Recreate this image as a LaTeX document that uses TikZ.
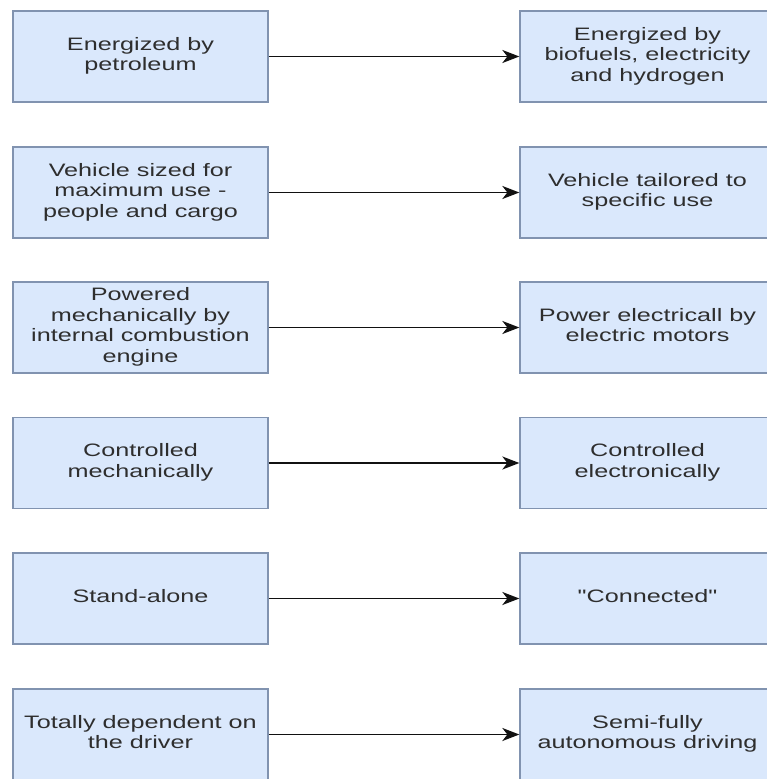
\documentclass[tikz,border=0pt]{standalone}
\usepackage{fontspec}
\setmainfont{Liberation Sans}[Ligatures=TeXOff]
\usepackage{graphicx}
\usetikzlibrary{arrows.meta}
\definecolor{boxfill}{HTML}{DAE8FC}
\definecolor{boxline}{HTML}{8193B0}
\definecolor{txtcol}{HTML}{2E2E2E}
\definecolor{arrcol}{HTML}{111111}
\newcommand\wtxt[1]{\scalebox{1.40}[1]{\begin{tabular}{@{}c@{}}#1\end{tabular}}}
\begin{document}
\begin{tikzpicture}[x=1pt,y=-1pt,
  box/.style={draw=boxline,fill=boxfill,line width=1.3pt,minimum width=255pt,minimum height=91pt,
    inner sep=0pt,text=txtcol,font=\fontsize{18}{20.5}\selectfont},
  arr/.style={draw=arrcol,line width=1.9pt,-{Stealth[length=17pt,width=13pt,inset=5pt]}}]
\fill[white] (0,0) rectangle (766,779);
\useasboundingbox (0,0) rectangle (766,779);
\node[box] (l1) at (140.5,56.5) {\wtxt{Energized by\\petroleum}};
\node[box] (r1) at (647.5,56.5) {\wtxt{Energized by\\biofuels, electricity\\and hydrogen}};
\node[box] (l2) at (140.5,192.5) {\wtxt{Vehicle sized for\\maximum use -\\people and cargo}};
\node[box] (r2) at (647.5,192.5) {\wtxt{Vehicle tailored to\\specific use}};
\node[box] (l3) at (140.5,327.5) {\wtxt{Powered\\mechanically by\\internal combustion\\engine}};
\node[box] (r3) at (647.5,327.5) {\wtxt{Power electricall by\\electric motors}};
\node[box] (l4) at (140.5,463) {\wtxt{Controlled\\mechanically}};
\node[box] (r4) at (647.5,463) {\wtxt{Controlled\\electronically}};
\node[box] (l5) at (140.5,598.5) {\wtxt{Stand-alone}};
\node[box] (r5) at (647.5,598.5) {\wtxt{"Connected"}};
\node[box] (l6) at (140.5,734.5) {\wtxt{Totally dependent on\\the driver}};
\node[box] (r6) at (647.5,734.5) {\wtxt{Semi-fully\\autonomous driving}};
\foreach \i in {1,...,6}{\draw[arr] (l\i.east) -- (r\i.west);}
\end{tikzpicture}
\end{document}
